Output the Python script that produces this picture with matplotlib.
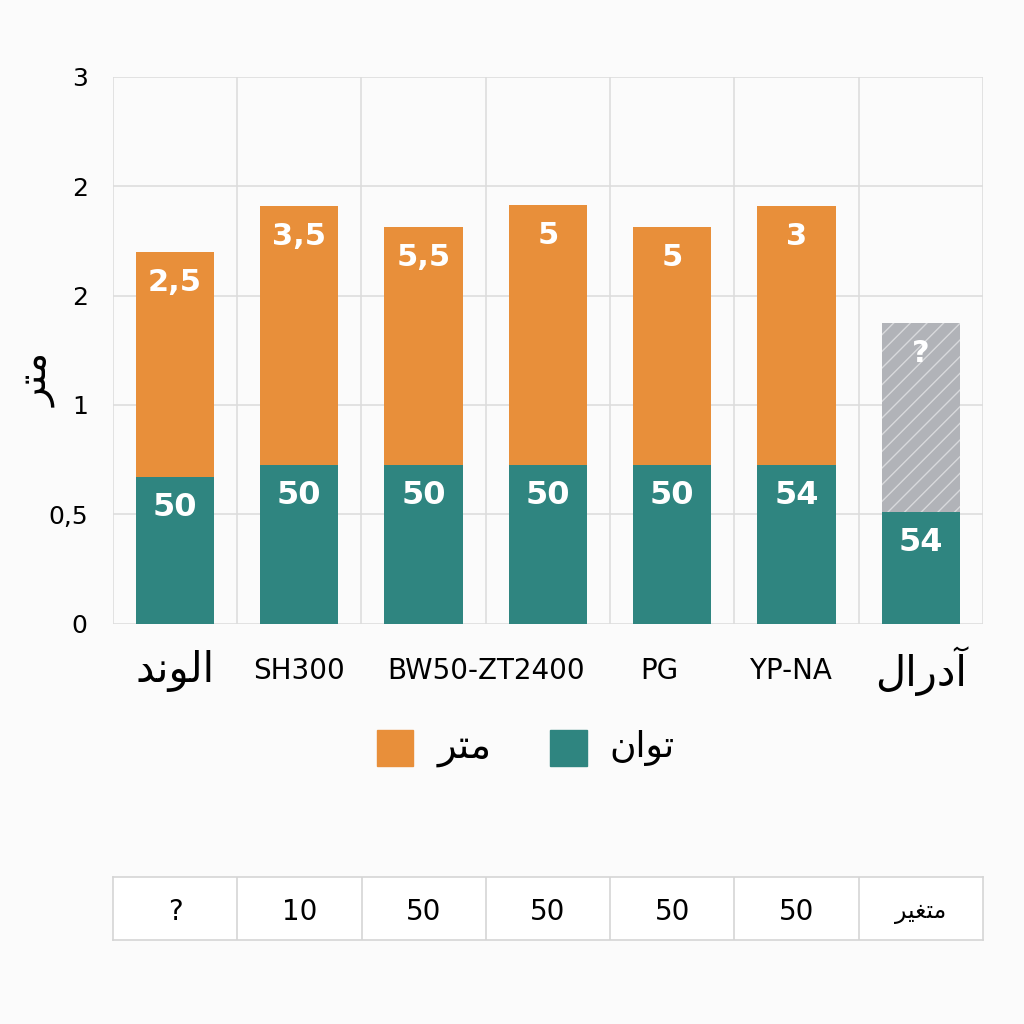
import matplotlib
matplotlib.use("Agg")
import matplotlib.pyplot as plt

plt.rcParams["font.family"] = "DejaVu Sans"

# Arabic strings in presentation forms (visual order) since matplotlib does no shaping
teal_vals = [1.34, 1.45, 1.45, 1.45, 1.45, 1.45, 1.02]
top_vals = [3.40, 3.82, 3.63, 3.83, 3.63, 3.82, 2.75]
teal_labels = ["50", "50", "50", "50", "50", "54", "54"]
orange_labels = ["2,5", "3,5", "5,5", "5", "5", "3", "?"]
tick_labels = ["0", "0,5", "1", "2", "2", "3"]
table_vals = ["?", "10", "50", "50", "50", "50", "\uFEAE\uFEF4\uFED0\uFE98\uFEE3"]
x_labels = ["\uFEAA\uFEE7\uFEEE\uFEDF\uFE8D", "SH300", "BW50-ZT2400", "PG", "YP-NA", "\uFEDD\uFE8D\uFEAD\uFEA9\uFE81"]
x_label_pos = [0, 1, 2.5, 3.9, 4.95, 6]
ylabel = "\uFEAE\uFE98\uFEE3"
leg_orange = "\uFEAE\uFE98\uFEE3"
leg_teal = "\uFEE5\uFE8D\uFEEE\uFE97"

ORANGE = "#E88F3A"
TEAL = "#2F8580"
GRAY = "#B1B3B8"

fig = plt.figure(figsize=(10.24, 10.24), dpi=100, facecolor="#FBFBFB")
ax = fig.add_axes([0.110, 0.391, 0.850, 0.534], facecolor="#FBFBFB")
n = len(teal_vals)
xs = list(range(n))
ax.set_xlim(-0.5, n - 0.5)
ax.set_ylim(0, 5)
for i in xs:
    ax.bar(i, teal_vals[i], width=0.63, color=TEAL, zorder=3)
    h = top_vals[i] - teal_vals[i]
    if i == n - 1:
        ax.bar(i, h, bottom=teal_vals[i], width=0.63, color=GRAY, hatch="//",
               edgecolor="#D8D9DC", linewidth=0, zorder=3)
    else:
        ax.bar(i, h, bottom=teal_vals[i], width=0.63, color=ORANGE, zorder=3)
    ax.text(i, teal_vals[i] - 0.28, teal_labels[i], ha="center", va="center",
            color="white", fontsize=23, fontweight="bold", zorder=4)
    ax.text(i, top_vals[i] - 0.28, orange_labels[i], ha="center", va="center",
            color="white", fontsize=22, fontweight="bold", zorder=4)
ax.set_yticks(range(6))
ax.set_yticklabels(tick_labels, fontsize=18)
ax.set_xticks([])
for xv in [i - 0.5 for i in range(n + 1)]:
    ax.axvline(xv, color="#DDDDDD", lw=1.2, zorder=1)
for yv in range(6):
    ax.axhline(yv, color="#DDDDDD", lw=1.2, zorder=1)
for s in ax.spines.values():
    s.set_visible(False)
ax.tick_params(axis="y", length=0, pad=18)
fig.text(38/1024, 1-380/1024, ylabel, fontsize=28, rotation=90, ha="center", va="center")

for lbl, pos in zip(x_labels, x_label_pos):
    fs = 30 if not lbl.isascii() else 20
    ax.text(pos, -0.43, lbl, ha="center", va="center", fontsize=fs,
            transform=ax.transData, clip_on=False)

# legend
fig.patches.append(plt.Rectangle((377/1024, 1-766/1024), 36/1024, 36/1024,
                                 transform=fig.transFigure, color=ORANGE))
fig.text(465/1024, 1-748/1024, leg_orange, fontsize=28, ha="center", va="center")
fig.patches.append(plt.Rectangle((550/1024, 1-766/1024), 37/1024, 36/1024,
                                 transform=fig.transFigure, color=TEAL))
fig.text(642/1024, 1-748/1024, leg_teal, fontsize=26, ha="center", va="center")

# bottom table
tax = fig.add_axes([113/1024, 1-940/1024, 870/1024, 63/1024], facecolor="white")
tax.set_xlim(0, n)
tax.set_ylim(0, 1)
tax.set_xticks([]); tax.set_yticks([])
for s in tax.spines.values():
    s.set_color("#D5D5D5"); s.set_linewidth(1.2)
for i in range(1, n):
    tax.axvline(i, color="#D5D5D5", lw=1.2)
for i, v in enumerate(table_vals):
    tax.text(i + 0.5, 0.45, v, ha="center", va="center",
             fontsize=20 if v.isascii() else 17)

fig.savefig("out.png", dpi=100, facecolor=fig.get_facecolor())
